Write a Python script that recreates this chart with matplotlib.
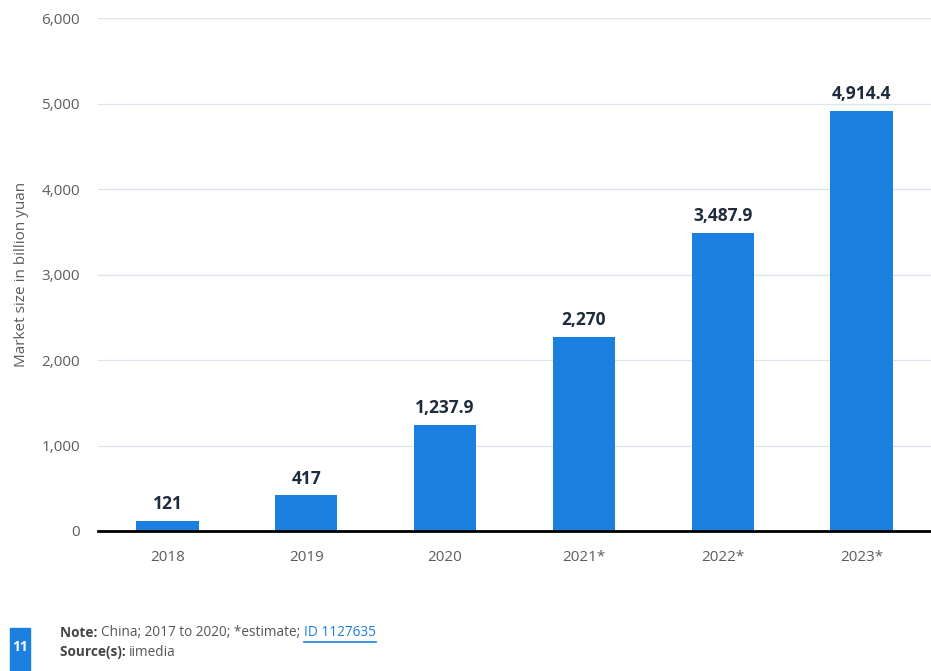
import matplotlib
matplotlib.use("Agg")
import matplotlib.pyplot as plt
from matplotlib.patches import Rectangle

plt.rcParams['font.family'] = ['Open Sans', 'DejaVu Sans']

years = ["2018", "2019", "2020", "2021*", "2022*", "2023*"]
market_size = [121, 417, 1237.9, 2270, 3487.9, 4914.4]
value_labels = ["121", "417", "1,237.9", "2,270", "3,487.9", "4,914.4"]
y_ticks = [0, 1000, 2000, 3000, 4000, 5000, 6000]
y_tick_labels = ["0", "1,000", "2,000", "3,000", "4,000", "5,000", "6,000"]

bar_color = "#1a7fdf"
text_gray = "#5c5c5c"

W, H = 931, 671
fig = plt.figure(figsize=(W / 100, H / 100), dpi=100)
ax = fig.add_axes([98 / W, 1 - 531 / H, 833 / W, 513 / H])

x = range(len(years))
ax.bar(x, market_size, width=0.45, color=bar_color, zorder=3)

for xi, v, lab in zip(x, market_size, value_labels):
    ax.text(xi, v + 90, lab, ha="center", va="bottom", fontsize=12.5,
            fontweight="bold", color="#1e2b3c")

ax.set_xlim(-0.5, len(years) - 0.5)
ax.set_ylim(0, 6000)
ax.set_yticks(y_ticks)
ax.set_yticklabels(y_tick_labels)
ax.set_xticks(list(x))
ax.set_xticklabels(years)
ax.tick_params(axis="y", length=0, pad=13, labelsize=11, labelcolor=text_gray)
ax.tick_params(axis="x", length=0, pad=14, labelsize=11, labelcolor=text_gray)

ax.grid(axis="y", color="#dde3ea", linewidth=0.9, zorder=0)
for s in ["top", "right", "left"]:
    ax.spines[s].set_visible(False)
ax.spines["bottom"].set_color("black")
ax.spines["bottom"].set_linewidth(2)
ax.spines["bottom"].set_zorder(4)

ax.set_ylabel("Market size in billion yuan", fontsize=11, color=text_gray, labelpad=9)

# footer: page badge, note and source lines
fig.patches.append(Rectangle((10 / W, 0), 20 / W, 43 / H,
                             transform=fig.transFigure, color=bar_color, zorder=1))
fig.text(20 / W, 1 - 647 / H, "11", ha="center", va="center", color="white",
         fontsize=10, fontweight="bold", zorder=10)

renderer = fig.canvas.get_renderer()


def run_of_text(x0, y, parts):
    xpos = x0
    for s, kw in parts:
        t = fig.text(xpos / W, 1 - y / H, s, va="center", fontsize=9.8, **kw)
        bb = t.get_window_extent(renderer=renderer)
        xpos += bb.width


run_of_text(60, 633, [("Note: ", dict(fontweight="bold", color="#444444")),
                      ("China; 2017 to 2020; *estimate; ", dict(color="#555555")),
                      ("ID 1127635", dict(color=bar_color))])
id_part = fig.texts[-1]
bb = id_part.get_window_extent(renderer=renderer)
fig.add_artist(plt.Line2D([bb.x0 / W, bb.x1 / W], [(bb.y0 - 1) / H] * 2,
                          color=bar_color, linewidth=1.2))
run_of_text(60, 652, [("Source(s): ", dict(fontweight="bold", color="#444444")),
                      ("iimedia", dict(color="#555555"))])

fig.savefig("out.png", dpi=100)
